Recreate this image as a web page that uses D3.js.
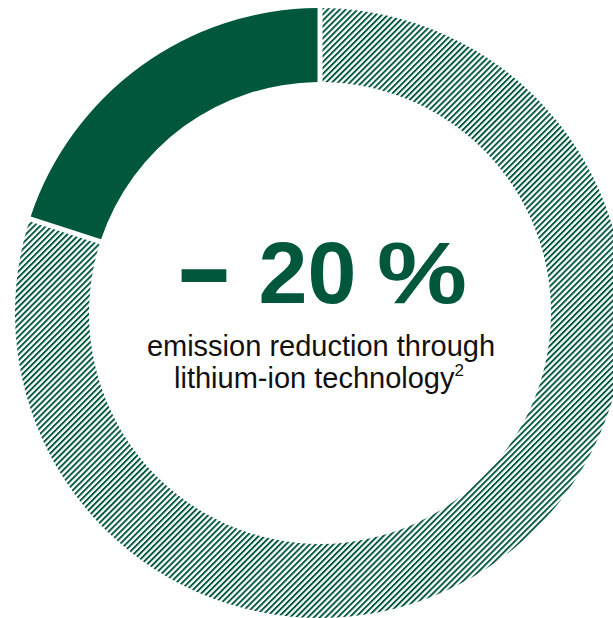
<!DOCTYPE html>
<html><head><meta charset="utf-8">
<script src="https://cdn.jsdelivr.net/npm/d3@7"></script>
<style>html,body{margin:0;padding:0;background:#fff;overflow:hidden}</style>
</head><body>
<svg id="chart" width="613" height="618"></svg>
<script>
const segments = ["Reduction", "Remaining"];
const shares = [20, 80];
const headlineParts = ["\u2013", "20", "%"];
const subtitleLines = ["emission reduction through", "lithium-ion technology"];
const footnote = "2";

const W = 613, H = 618, cx = 320, cy = 313, R = 305, r = 231;
const green = "#00573C";
const font = "Liberation Sans, Arial, sans-serif";
const svg = d3.select("#chart");
const defs = svg.append("defs");
const pat = defs.append("pattern").attr("id", "hatch")
  .attr("patternUnits", "userSpaceOnUse").attr("width", 4.2).attr("height", 4.2)
  .attr("patternTransform", "rotate(45)");
pat.append("rect").attr("x", 0).attr("y", 0).attr("width", 1.9).attr("height", 4.2).attr("fill", green);

const pie = d3.pie().sort(null).startAngle(-2 * Math.PI * shares[0] / 100).endAngle(2 * Math.PI - 2 * Math.PI * shares[0] / 100);
const arc = d3.arc().innerRadius(r).outerRadius(R).padAngle(5 / R).padRadius(R);
const g = svg.append("g").attr("transform", `translate(${cx},${cy})`);
g.selectAll("path").data(pie(shares)).join("path")
  .attr("d", arc)
  .attr("fill", (d, i) => i === 0 ? green : "url(#hatch)");

const head = svg.append("g").attr("font-family", font).attr("font-weight", "bold").attr("fill", green).attr("text-anchor", "middle");
// dash
head.append("text").attr("x", 204).attr("y", 303).attr("dy", -4).attr("font-size", 88)
  .attr("stroke", green).attr("stroke-width", 4).attr("stroke-linejoin", "miter")
  .attr("textLength", 46).attr("lengthAdjust", "spacingAndGlyphs").text(headlineParts[0]);
head.append("text").attr("x", 307.5).attr("y", 303).attr("font-size", 88).text(headlineParts[1]);
head.append("text").attr("x", 422).attr("y", 303).attr("font-size", 88)
  .attr("textLength", 90).attr("lengthAdjust", "spacingAndGlyphs").text(headlineParts[2]);

const sub = svg.append("text").attr("text-anchor", "middle")
  .attr("font-family", font).attr("font-size", 29).attr("fill", "#111");
sub.append("tspan").attr("x", cx + 1).attr("y", 356).text(subtitleLines[0]);
sub.append("tspan").attr("x", cx - 1).attr("y", 388).text(subtitleLines[1]);
sub.append("tspan").attr("font-size", 17).attr("dy", -12).text(footnote);
</script>
</body></html>
